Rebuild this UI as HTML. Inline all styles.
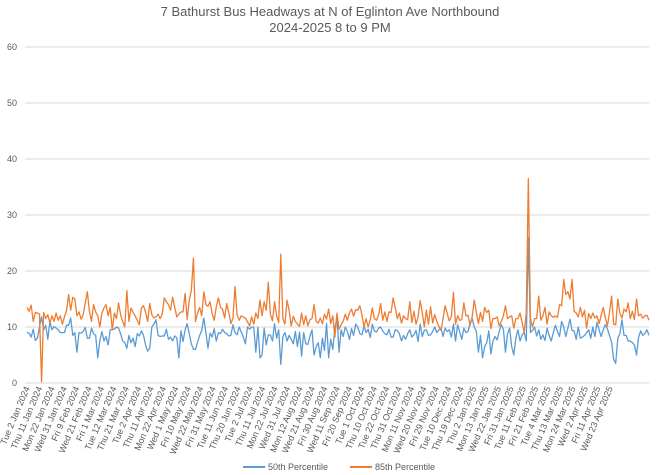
<!DOCTYPE html>
<html><head><meta charset="utf-8"><style>
body{margin:0;background:#fff;}
svg{display:block;font-family:"Liberation Sans",sans-serif;}
</style></head><body>
<svg id="chart" width="660" height="475" viewBox="0 0 660 475">
<text x="330" y="16" text-anchor="middle" font-size="13" fill="#595959">7 Bathurst Bus Headways at N of Eglinton Ave Northbound</text>
<text x="330" y="32" text-anchor="middle" font-size="13" fill="#595959">2024-2025 8 to 9 PM</text>
<g id="grid"></g><g id="ylab"></g><g id="xlab"></g><g id="series"></g>
<g>
<line x1="243" y1="467" x2="265" y2="467" stroke="#5b9bd5" stroke-width="2"/>
<text x="268" y="470" font-size="9" fill="#595959">50th Percentile</text>
<line x1="350" y1="467" x2="372" y2="467" stroke="#ed7d31" stroke-width="2"/>
<text x="375" y="470" font-size="9" fill="#595959">85th Percentile</text>
</g>
</svg>
<script>
const yTicks=[0,10,20,30,40,50,60];
const xLabels=["Tue 2 Jan 2024","Thu 11 Jan 2024","Mon 22 Jan 2024","Wed 31 Jan 2024","Fri 9 Feb 2024","Wed 21 Feb 2024","Fri 1 Mar 2024","Tue 12 Mar 2024","Thu 21 Mar 2024","Tue 2 Apr 2024","Thu 11 Apr 2024","Mon 22 Apr 2024","Wed 1 May 2024","Fri 10 May 2024","Wed 22 May 2024","Fri 31 May 2024","Tue 11 Jun 2024","Thu 20 Jun 2024","Tue 2 Jul 2024","Thu 11 Jul 2024","Mon 22 Jul 2024","Wed 31 Jul 2024","Mon 12 Aug 2024","Wed 21 Aug 2024","Fri 30 Aug 2024","Wed 11 Sep 2024","Fri 20 Sep 2024","Tue 1 Oct 2024","Thu 10 Oct 2024","Tue 22 Oct 2024","Thu 31 Oct 2024","Mon 11 Nov 2024","Wed 20 Nov 2024","Fri 29 Nov 2024","Tue 10 Dec 2024","Thu 19 Dec 2024","Thu 2 Jan 2025","Mon 13 Jan 2025","Wed 22 Jan 2025","Fri 31 Jan 2025","Tue 11 Feb 2025","Fri 21 Feb 2025","Tue 4 Mar 2025","Thu 13 Mar 2025","Mon 24 Mar 2025","Wed 2 Apr 2025","Fri 11 Apr 2025","Wed 23 Apr 2025"];
const p85=[13.5,12.8,13.9,11,12.6,12.5,12.3,0.2,12.6,11.5,12.2,10.7,12,11,12.5,11.2,12,10.5,11.8,12.9,
15.8,13,15.3,15,12,12.7,11.4,12.2,14.3,16.3,12.8,11,14,12.7,12,10,12.5,13.4,14,12,
13.5,9.5,12.5,11.5,14.3,12.2,11,10,16.5,11,13.4,12.6,12,11.2,10.4,13.4,13.8,12.6,11,14.2,
12.2,11.6,11.8,12.3,11.5,12.3,15.2,14.5,14,13,15.3,13.5,11.8,12.3,12.7,12.7,16,11.3,14.8,16.5,
22.3,11,12.5,13.5,12,16.3,14,13.7,14.5,12.4,11.2,13.6,15.2,13.5,13.2,11.6,14.2,12.6,10.6,11.6,
17.2,12.1,11.2,12,11.8,11.6,10.9,10.2,11.8,10.5,12.5,11.5,14.8,12,14.5,13,18,12.3,11.1,14.5,
12,10.8,23,11.5,10.5,14.8,13,10.2,11.9,11,10.5,10.1,12.5,10.4,12,10.2,11.3,11.5,14,11,
10.7,11.6,10.6,12.3,11.4,13.2,10.6,12,8.2,12.5,9.6,10.4,11,12.3,11.2,12.5,13.2,11.9,13.1,13,
13.8,12.2,10,11.5,10,11.3,13.4,11.5,11.2,12.1,14.2,11.2,12.7,11,12.7,12.6,15.2,13.5,11.5,12.5,
10.7,12,11.5,11.3,14.5,10.8,12.8,10.5,11.8,14.7,12.6,10,13,10.5,13.6,10.7,12.2,11,10.1,9.4,
11.5,13.8,12.4,11.1,11.9,16.2,10.5,12,11.2,11.3,14.3,12,12.1,10.3,11.8,14.8,12.6,10.6,12.6,11,
13.5,12.6,13,9.7,11.5,11.5,11.8,10.2,11,12,13.8,11.5,11.8,12,9.8,11.5,11.5,12.5,10.8,9,
12.5,36.5,11.5,10,11.5,11.5,15.5,11.2,12,13.5,10.5,12.7,12,11.7,12,11.7,14,13.8,18.5,15.8,
16.3,15,18.5,12.8,12.5,11.8,13.5,11.8,13,9.8,12.4,11.5,12.5,11.6,12,10.6,12.1,13.5,11.7,10.2,
12.5,15.5,10.5,10.4,15,12.5,11.6,13.2,12.7,14.3,11.5,12.8,11.3,15,12,12.3,11.6,12,12.1,11.2];
const p50=[9.1,8.9,8.2,9.6,7.6,8,10,11.8,9.5,10.3,7.8,11,9.5,10.1,9.8,9.5,9,9,9,10.3,
10.3,11.6,8.5,9,5.5,9,8.9,9.2,9.9,8,8,9.8,8.8,8.5,4.5,7.5,9.2,7.5,8.3,6.8,
9.5,9.6,9.6,10,9.8,8.8,7.5,7.2,6.2,8.5,7.2,8,6.5,8.8,8.4,9.3,8.5,6.8,5.7,6.2,
10,10.5,11.3,8.5,8.3,8.4,8.4,9.6,7.8,8.2,7.5,8.4,8.1,4.5,9.3,7.4,9.5,10.6,8.8,7,
6,6,7.3,8.5,9.4,11.6,9,6.2,8.9,8.2,9.7,7.5,9,8.8,9.6,9,8.8,8.4,8.5,10.4,
9,8.6,10,9.1,8.2,7,10,9.6,10,10,5.5,10,4.5,5,9.8,6.8,8.6,8.6,7.5,10.6,
8,9.5,3.3,8.3,9,7.5,8.5,7.8,7,9.2,6.5,9.1,4.8,9,7,6.9,8.3,9.5,5,6.5,
7.2,4.5,8,5.8,10.6,4.5,7.8,6,9.7,11.8,5.5,9.5,8.3,10,9.2,7.8,9.7,8.5,10.5,10,
8.8,8.6,10.2,9,9.6,8.1,10.5,9.3,9.1,9.8,10,9.3,8.8,8.6,9.6,8.2,8.2,9.5,9.4,8.8,
7.5,8.5,7.8,8.8,9.5,8.2,8.6,9.4,7.4,10.5,8.3,9.4,9.5,8.5,8.6,9.2,10,9,9.5,9.8,
8.3,9.8,9.2,9.5,8.2,10.5,7.5,10.4,9.1,7.8,9.8,9,9.2,10.7,11.5,10,9.2,5.5,8.5,4.5,
6.5,7.2,9.3,5.2,7.5,8.3,7.7,9.2,10.4,9.6,5.5,8.8,9.8,6.5,5,8,9.5,7.5,8.6,9,
7.5,26,9,9.4,10,8.4,9.5,7.8,8.6,7.6,9.8,8.5,7.5,9,10.3,9.2,8.3,11,10,8.3,
9.8,11.4,9.4,9.3,7.8,10,8,8.2,8.5,9,9.5,8,10,8.3,10.8,9.5,8.3,9.5,10.4,9.7,
8.5,7.3,4.2,3.5,8,8.8,11.3,8.5,8.5,7.5,7.5,7.2,6.8,5,8.2,9.3,8.5,8.8,9.5,8.5];

const NS='http://www.w3.org/2000/svg';
const X0=27,X1=649,Y0=383,Y1=47,YMAX=60,LABEL_DOMAIN=351;
function y(v){return Y0-(v/YMAX)*(Y0-Y1);}
function x(i,n){return X0+(i/(n-1))*(X1-X0);}
function xl(k){return X0+(7*k/LABEL_DOMAIN)*(X1-X0);}
function mk(tag,attrs,parent){const e=document.createElementNS(NS,tag);for(const k in attrs)e.setAttribute(k,attrs[k]);parent.appendChild(e);return e;}
const grid=document.getElementById('grid'),ylab=document.getElementById('ylab'),xlab=document.getElementById('xlab'),ser=document.getElementById('series');
yTicks.forEach(t=>{
  const l=mk('line',{x1:X0-2,x2:X1,y1:y(t),y2:y(t),stroke:'#d9d9d9','stroke-width':1},grid);
  
  
  const tx=mk('text',{x:17,y:y(t)+3,'text-anchor':'end','font-size':9,fill:'#595959'},ylab);
  tx.textContent=t;
  
  
});
xLabels.forEach((s,k)=>{
  const px=xl(k)+3,py=388;
  const tx=mk('text',{x:px,y:py,'text-anchor':'end','font-size':9,fill:'#595959',transform:`rotate(-67 ${px} ${py})`},xlab);
  tx.textContent=s;
  
  
});
function line(arr,color,name){
  const d=arr.map((v,i)=>(i?'L':'M')+x(i,arr.length).toFixed(2)+' '+y(v).toFixed(2)).join(' ');
  const p=mk('path',{d:d,fill:'none',stroke:color,'stroke-width':1.3,'stroke-linejoin':'round'},ser);
  
  
}
line(p50,'#5b9bd5','line-50th-percentile');
line(p85,'#ed7d31','line-85th-percentile');
</script>
</body></html>
